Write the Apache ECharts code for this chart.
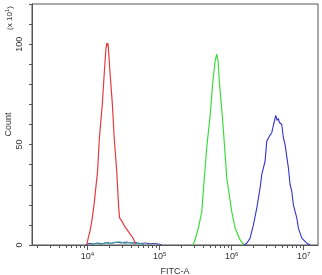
<!DOCTYPE html>
<html>
<head>
<meta charset="utf-8">
<script src="https://cdn.jsdelivr.net/npm/echarts@6/dist/echarts.min.js"></script>
<style>
  html, body { margin: 0; padding: 0; background: #fff; }
  #chart { width: 322px; height: 275px; }
</style>
</head>
<body>
<div id="chart"></div>
<script>
// x values are log10(FITC-A); y values are counts (x10^1)
const redLog = [3.99, 4.01, 4.035, 4.06, 4.09, 4.14, 4.165, 4.205, 4.235, 4.255, 4.268, 4.275, 4.282, 4.29, 4.31, 4.345, 4.37, 4.405, 4.43, 4.445, 4.475, 4.52, 4.56, 4.63, 4.67];
const redCount = [0, 3.5, 7, 12, 20, 37, 53.5, 70, 87, 97.5, 100.5, 99, 100.5, 98, 87, 70, 53.5, 37, 20, 13.5, 12, 9, 7, 3.5, 0.5];

const greenLog = [5.465, 5.493, 5.539, 5.586, 5.622, 5.656, 5.701, 5.739, 5.771, 5.794, 5.813, 5.831, 5.872, 5.903, 5.933, 6.003, 6.049, 6.118, 6.174];
const greenCount = [0, 2.5, 8.5, 16.5, 33.5, 49, 64, 81, 91.5, 95, 91.5, 81, 64, 49, 33.5, 16.5, 8.5, 2.5, 0];

const blueLog = [6.174, 6.211, 6.257, 6.303, 6.35, 6.396, 6.419, 6.465, 6.489, 6.525, 6.558, 6.583, 6.614, 6.632, 6.65, 6.664, 6.697, 6.719, 6.743, 6.789, 6.813, 6.836, 6.858, 6.906, 6.928, 6.975, 7.044, 7.09];
const blueCount = [0, 0.9, 3.4, 10, 18.4, 28.4, 35, 41.7, 51.7, 54.2, 55.9, 60, 64.5, 62, 63, 61, 60, 53.4, 50, 38.4, 30, 26.7, 20, 13.4, 8.4, 3.4, 0.9, 0];

const ctrlLog = [3.97, 4.02, 4.08, 4.14, 4.2, 4.27, 4.33, 4.4, 4.47, 4.54, 4.6, 4.67, 4.73, 4.8, 4.87, 4.93, 5.0, 5.03];
const ctrlCount = [0, 0.8, 0.5, 1, 0.6, 1.2, 0.8, 1.4, 1, 1.5, 0.9, 1.2, 0.7, 1, 0.6, 0.8, 0.4, 0];
const ctrl2Log = [4.05, 4.12, 4.18, 4.25, 4.31, 4.38, 4.45, 4.52, 4.58, 4.65, 4.72, 4.78];
const ctrl2Count = [0.3, 0.9, 0.4, 1.1, 0.7, 1.3, 1.6, 0.8, 1.2, 0.6, 0.9, 0.2];

const majorTicks = [4, 5, 6, 7];
const minorTicks = [];
for (let d = 3; d <= 7; d++) {
  for (let k = 2; k <= 9; k++) {
    const v = d + Math.log10(k);
    if (v > 3.229 && v < 7.2) minorTicks.push(v);
  }
}
const yLabels = [0, 50, 100];

const axisColor = "#555";
const textColor = "#333";
const font = "Liberation Sans";

function pairs(xs, ys) {
  return xs.map((x, i) => [x, ys[i]]);
}

function line(data, color, width) {
  return {
    type: "line",
    data: data,
    showSymbol: false,
    smooth: false,
    animation: false,
    lineStyle: { color: color, width: width || 1 }
  };
}

const chart = echarts.init(document.getElementById("chart"));
chart.setOption({
  animation: false,
  grid: {
    left: 32, top: 4, right: 4, bottom: 30,
    outerBoundsMode: "none",
    containLabel: false,
    show: true, borderColor: axisColor, borderWidth: 1
  },
  xAxis: [
    {
      type: "value", min: 3.229, max: 7.2,
      axisLine: { show: true, lineStyle: { color: axisColor } },
      splitLine: { show: false },
      axisTick: { show: true, length: 5, customValues: majorTicks, lineStyle: { color: axisColor } },
      axisLabel: {
        customValues: majorTicks,
        margin: 6,
        color: textColor,
        fontFamily: font,
        formatter: (v) => "{b|10}{s|" + v + "}",
        rich: {
          b: { fontSize: 9, fontFamily: font, color: textColor },
          s: { fontSize: 6, fontFamily: font, color: textColor, padding: [0, 0, 6, 0] }
        }
      },
      name: "FITC-A",
      nameLocation: "middle",
      nameGap: 22,
      nameMoveOverlap: false,
      nameTextStyle: { fontSize: 9, fontFamily: font, color: textColor }
    },
    {
      type: "value", min: 3.229, max: 7.2, position: "bottom",
      axisLine: { show: false },
      splitLine: { show: false },
      axisTick: { show: true, length: 3, customValues: minorTicks, lineStyle: { color: axisColor } },
      axisLabel: { show: false }
    }
  ],
  yAxis: {
    type: "value", min: 0, max: 120, interval: 10,
    axisLine: { show: true, lineStyle: { color: axisColor } },
    splitLine: { show: false },
    axisTick: { show: true, length: 3, lineStyle: { color: axisColor } },
    axisLabel: {
      rotate: 90,
      margin: 8,
      fontSize: 9,
      fontFamily: font,
      color: textColor,
      hideOverlap: false,
      formatter: (v) => (yLabels.includes(v) ? String(v) : "")
    },
    name: "Count",
    nameLocation: "middle",
    nameGap: 19,
    nameRotate: 90,
    nameMoveOverlap: false,
    nameTextStyle: { fontSize: 9, fontFamily: font, color: textColor }
  },
  graphic: [{
    type: "text",
    x: 10, y: 18,
    rotation: Math.PI / 2,
    style: {
      text: "(x 10{s|1})",
      fontSize: 8,
      fontFamily: font,
      fill: textColor,
      align: "center",
      verticalAlign: "middle",
      rich: { s: { fontSize: 6, fontFamily: font, fill: textColor, padding: [0, 0, 5, 0] } }
    }
  }],
  series: [
    line(pairs(ctrlLog, ctrlCount), "#2c3fa8"),
    line(pairs(ctrl2Log, ctrl2Count), "#3aa6a0"),
    line(pairs(redLog, redCount), "#e53a3f", 1.2),
    line(pairs(greenLog, greenCount), "#3ddc3d", 1.2),
    line(pairs(blueLog, blueCount), "#3333cc", 1.1)
  ]
});
</script>
</body>
</html>
